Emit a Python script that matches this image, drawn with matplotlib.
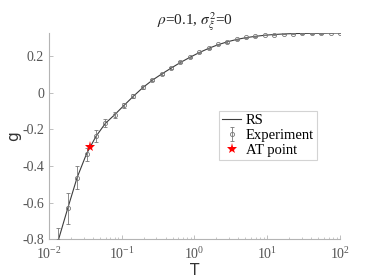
import matplotlib
matplotlib.use("Agg")
import matplotlib.pyplot as plt
from matplotlib.ticker import LogLocator, NullFormatter

T = [0.01, 0.01346, 0.01812, 0.02438, 0.03282, 0.04418, 0.05946, 0.08003,
     0.1077, 0.145, 0.1952, 0.2627, 0.3536, 0.4759, 0.6405, 0.8621,
     1.160, 1.561, 2.101, 2.828, 3.807, 5.124, 6.897, 9.283,
     12.49, 16.82, 22.63, 30.46, 41.00, 55.19, 74.29, 100.0]
g_rs = [-1.02, -0.805, -0.631, -0.463, -0.334, -0.239, -0.168, -0.120,
        -0.069, -0.019, 0.028, 0.068, 0.102, 0.134, 0.165, 0.193,
        0.219, 0.242, 0.262, 0.278, 0.291, 0.301, 0.308, 0.314,
        0.318, 0.321, 0.323, 0.324, 0.325, 0.325, 0.326, 0.326]
g_exp = [-1.03, -0.81, -0.632, -0.464, -0.336, -0.236, -0.165, -0.122,
         -0.069, -0.018, 0.029, 0.069, 0.102, 0.133, 0.166, 0.193,
         0.220, 0.242, 0.264, 0.277, 0.291, 0.302, 0.308, 0.316,
         0.318, 0.321, 0.323, 0.324, 0.325, 0.325, 0.326, 0.326]
g_err = [0.10, 0.07, 0.086, 0.064, 0.036, 0.032, 0.022, 0.018,
         0.014, 0.010, 0.008, 0.007, 0.006, 0.005, 0.005, 0.004,
         0.004, 0.003, 0.003, 0.003, 0.002, 0.002, 0.002, 0.002,
         0.002, 0.002, 0.002, 0.002, 0.002, 0.002, 0.002, 0.002]
T_at = [0.0365]
g_at = [-0.298]
yticks = [-0.8, -0.6, -0.4, -0.2, 0, 0.2]
ytick_labels = ['-0.8', '-0.6', '-0.4', '-0.2', '0', '0.2']

title = r"$\rho$=0.1, $\sigma_\xi^2$=0"

serif = ['Liberation Serif', 'DejaVu Serif']
plt.rcParams['font.family'] = serif
plt.rcParams['mathtext.fontset'] = 'stix'
plt.rcParams['axes.unicode_minus'] = False

fig = plt.figure(figsize=(3.74, 2.8), dpi=100)
ax = fig.add_axes([0.131, 0.146, 0.778, 0.736])

gray = '#777777'
h_rs, = ax.plot(T, g_rs, color='#3c3c3c', lw=0.8, label='RS', zorder=2)
h_exp = ax.errorbar(T, g_exp, yerr=g_err, fmt='o', ms=3.0, mfc='none', mec=gray,
                    mew=0.6, ecolor=gray, elinewidth=0.6, capsize=1.6, capthick=0.6,
                    label='Experiment', zorder=3)
h_at, = ax.plot(T_at, g_at, '*', color='red', ms=8, mew=0, ls='none',
                label='AT point', zorder=4)

ax.set_xscale('log')
ax.set_xlim(0.01, 100)
ax.set_ylim(-0.8, 0.326)
ax.set_yticks(yticks)
ax.set_yticklabels(ytick_labels)
ax.xaxis.set_major_locator(LogLocator(base=10, numticks=10))
ax.xaxis.set_minor_locator(LogLocator(base=10, subs=range(2, 10), numticks=20))
ax.xaxis.set_minor_formatter(NullFormatter())

for s in ['top', 'right']:
    ax.spines[s].set_visible(False)
for s in ['left', 'bottom']:
    ax.spines[s].set_color('#b4b4b4')
    ax.spines[s].set_linewidth(0.8)
ax.tick_params(which='both', direction='in', color='#b4b4b4', labelcolor='#555555',
               labelsize=10)
ax.tick_params(which='major', length=3, width=0.6)
ax.tick_params(which='minor', length=1.6, width=0.5)
ax.xaxis.set_tick_params(pad=5)

ax.set_xlabel('T', fontsize=11, family='DejaVu Sans', color='#333333', labelpad=1)
ax.set_ylabel('g', fontsize=11, family='DejaVu Sans', color='#333333', labelpad=1)
ax.set_title(title, fontsize=11, color='#222222', pad=6)

leg = ax.legend([h_rs, h_exp, h_at], ['RS', 'Experiment', 'AT point'],
                loc='upper left', bbox_to_anchor=(0.583, 0.624), frameon=True,
                fancybox=False, edgecolor='#c8c8c8', prop={'size': 10.5},
                handlelength=1.3, handletextpad=0.3, borderpad=0.25, labelspacing=0.1,
                borderaxespad=0)
leg.get_frame().set_linewidth(0.8)

fig.savefig('out.png', dpi=100)
